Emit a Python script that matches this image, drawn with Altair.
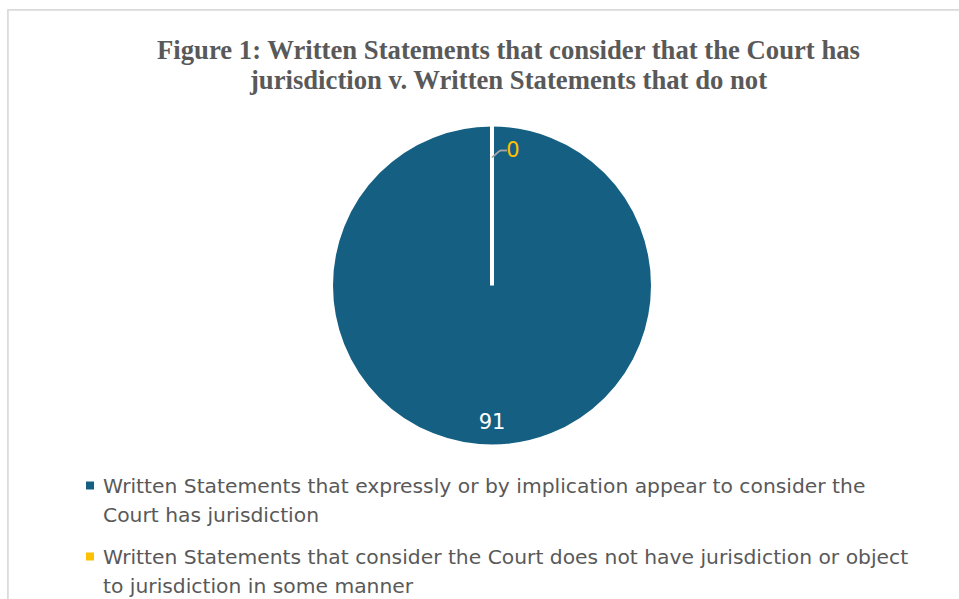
import altair as alt
import pandas as pd

# ---- data ----
legend_lines = [
    ["Written Statements that expressly or by implication appear to consider the",
     "Court has jurisdiction"],
    ["Written Statements that consider the Court does not have jurisdiction or object",
     "to jurisdiction in some manner"],
]
values = [91, 0]
colors = ["#156082", "#FFC000"]
title_lines = [
    "Figure 1: Written Statements that consider that the Court has",
    "jurisdiction v. Written Statements that do not",
]

categories = [" ".join(l) for l in legend_lines]
df = pd.DataFrame({
    "category": categories,
    "value": values,
    "idx": list(range(len(values))),
    "label": [str(v) for v in values],
})

leg_rows = []
for i, lines in enumerate(legend_lines):
    for j, t in enumerate(lines):
        leg_rows.append({"category": categories[i], "item": i, "line": j, "text": t})
df_leg = pd.DataFrame(leg_rows)

W, H = 951, 589
CX, CY = 484, 275.5  # pie centre inside the view
LEG_X, LEG_Y, ITEM_GAP, LINE_GAP = 95, 482.5, 71, 29.5

color_scale = alt.Scale(domain=categories, range=colors)

frame = alt.Chart(df).mark_rect(fill="white", stroke="#D9D9D9", strokeWidth=1.5).encode(
    x=alt.value(0), y=alt.value(0), x2=alt.value(W + 40), y2=alt.value(H + 40))

base = alt.Chart(df).encode(
    theta=alt.Theta("value:Q", stack=True),
    order=alt.Order("idx:Q"),
)

arcs = base.mark_arc(outerRadius=161, stroke="white", strokeWidth=4).encode(
    x=alt.value(CX), y=alt.value(CY),
    color=alt.Color("category:N", scale=color_scale, legend=None),
)

big_label = base.mark_text(radius=137, fontSize=21, font="DejaVu Sans", color="white").encode(
    x=alt.value(CX), y=alt.value(CY),
    text="label:N",
    opacity=alt.condition("datum.value > 0", alt.value(1), alt.value(0)),
)

zero_label = base.mark_text(radius=135, dx=21, fontSize=21, font="DejaVu Sans", color="#FFC000").encode(
    x=alt.value(CX), y=alt.value(CY),
    text="label:N",
    opacity=alt.condition("datum.value > 0", alt.value(0), alt.value(1)),
)

leader1 = alt.Chart(df).mark_rule(color="#A6A6A6", strokeWidth=1.5).encode(
    x=alt.value(CX), y=alt.value(CY - 128), x2=alt.value(CX + 8), y2=alt.value(CY - 135))
leader2 = alt.Chart(df).mark_rule(color="#A6A6A6", strokeWidth=1.5).encode(
    x=alt.value(CX + 8), y=alt.value(CY - 135), x2=alt.value(CX + 15), y2=alt.value(CY - 135))

leg_base = alt.Chart(df_leg).transform_calculate(
    ypx=f"{LEG_Y} + {ITEM_GAP} * datum.item + {LINE_GAP} * datum.line"
)
leg_text = leg_base.mark_text(
    align="left", baseline="alphabetic", font="DejaVu Sans", fontSize=20.3, color="#595959"
).encode(
    x=alt.value(LEG_X),
    y=alt.Y("ypx:Q", scale=None, axis=None),
    text="text:N",
)
leg_sym = leg_base.transform_filter("datum.line == 0").transform_calculate(
    ysym="datum.ypx - 7"
).mark_square(size=64, opacity=1).encode(
    x=alt.value(LEG_X - 13),
    y=alt.Y("ysym:Q", scale=None, axis=None),
    color=alt.Color("category:N", scale=color_scale, legend=None),
)

chart = alt.layer(frame, arcs, leader1, leader2, big_label, zero_label, leg_sym, leg_text).properties(
    width=W, height=H,
    padding={"left": 8, "top": 10, "right": 0, "bottom": 0},
    autosize=alt.AutoSizeParams(type="none"),
    title=alt.TitleParams(
        text=title_lines, font="Liberation Serif", fontSize=26.7, fontWeight="bold",
        color="#595959", anchor="middle", dx=25, dy=89, lineHeight=30,
    ),
    background="white",
).configure_view(stroke=None)

chart.save("out.html", embed_options={"renderer": "svg", "actions": False})
